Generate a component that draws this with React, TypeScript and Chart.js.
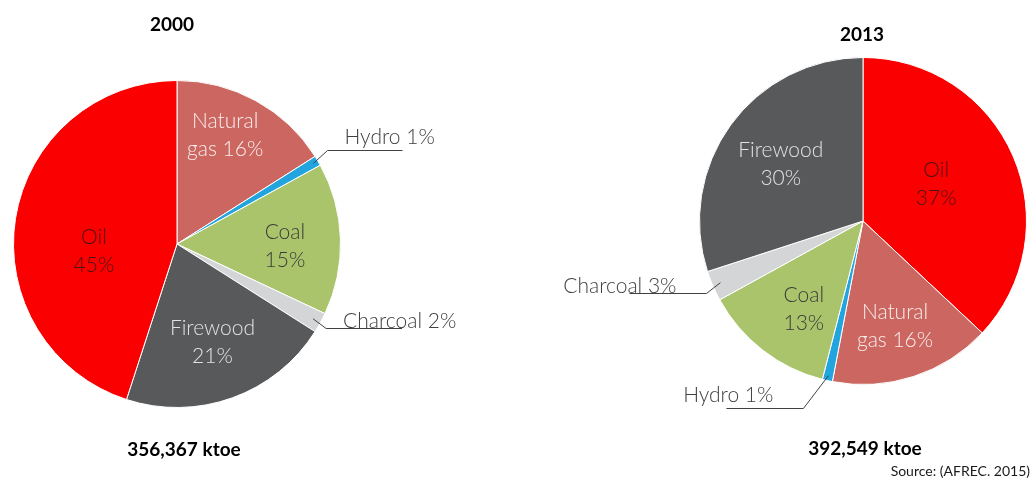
import React, { useEffect, useRef } from "react";
import { Chart, registerables } from "chart.js";

Chart.register(...registerables);

// ---- data ----
const categories2000 = ["Natural gas", "Hydro", "Coal", "Charcoal", "Firewood", "Oil"];
const shares2000 = [16, 1, 15, 2, 21, 45];
const categories2013 = ["Oil", "Natural gas", "Hydro", "Coal", "Charcoal", "Firewood"];
const shares2013 = [37, 16, 1, 13, 3, 30];
const yearLabels = ["2000", "2013"];
const totalLabels = ["356,367 ktoe", "392,549 ktoe"];
const sourceLabel = "Source: (AFREC. 2015)";

// ---- styles ----
const COLORS: Record<string, string> = {
  Oil: "#FA0000",
  "Natural gas": "#CC6660",
  Hydro: "#22A4DE",
  Coal: "#A9C46A",
  Charcoal: "#D4D5D7",
  Firewood: "#58595B",
};
const TEXT_COLORS: Record<string, string> = {
  Oil: "#4A1414",
  "Natural gas": "#F8EDEC",
  Coal: "#3A3A3A",
  Firewood: "#E2E2E2",
};
const LABEL_FONT = "300 21px Lato, 'Open Sans', sans-serif";
const TITLE_FONT = "Lato, 'Open Sans', sans-serif";

type Leader = { r: number; elbow: [number, number]; len: number; text: [number, number]; align: CanvasTextAlign };

const inside2000: Record<string, [number, number]> = {
  "Natural gas": [0.73, -5],
  Coal: [0.66, 3],
  Firewood: [0.64, 0],
  Oil: [0.51, -14],
};
const leaders2000: Record<string, Leader> = {
  Hydro: { r: 0.97, elbow: [14, -13], len: 75, text: [17, -7], align: "left" },
  Charcoal: { r: 0.95, elbow: [13, 9], len: 76, text: [17, -1], align: "left" },
};
const inside2013: Record<string, [number, number]> = {
  Oil: [0.5, -3],
  "Natural gas": [0.67, 1],
  Coal: [0.65, -4],
  Firewood: [0.61, -1.5],
};
const leaders2013: Record<string, Leader> = {
  Charcoal: { r: 0.95, elbow: [-14, 10], len: -77, text: [-30, -1], align: "right" },
  Hydro: { r: 0.97, elbow: [-25, 32], len: -77, text: [-30, -7], align: "right" },
};

const sliceLabelPlugin = {
  id: "sliceLabels",
  afterDatasetsDraw(chart: any, _args: any, opts: any) {
    const ctx: CanvasRenderingContext2D = chart.ctx;
    const meta = chart.getDatasetMeta(0);
    const labels = chart.data.labels as string[];
    const vals = chart.data.datasets[0].data as number[];
    meta.data.forEach((arc: any, i: number) => {
      const p = arc.getProps(["x", "y", "startAngle", "endAngle", "outerRadius"], true);
      const name = labels[i];
      const pct = vals[i] + "%";
      const mid = (p.startAngle + p.endAngle) / 2;
      ctx.save();
      ctx.font = LABEL_FONT;
      const ins = opts.inside[name];
      if (ins) {
        const a = mid + (ins[1] * Math.PI) / 180;
        const r = p.outerRadius * ins[0];
        const cx = p.x + Math.cos(a) * r;
        const cy = p.y + Math.sin(a) * r;
        const sp = name.indexOf(" ");
        const lines = sp > 0 ? [name.slice(0, sp), name.slice(sp + 1) + " " + pct] : [name, pct];
        ctx.fillStyle = TEXT_COLORS[name] || "#404040";
        ctx.textAlign = "center";
        ctx.textBaseline = "middle";
        lines.forEach((t, k) => ctx.fillText(t, cx, cy + (k - (lines.length - 1) / 2) * opts.lineHeight));
      }
      const lead: Leader | undefined = opts.leaders[name];
      if (lead) {
        const r = p.outerRadius * lead.r;
        const ax = p.x + Math.cos(mid) * r;
        const ay = p.y + Math.sin(mid) * r;
        const ex = ax + lead.elbow[0];
        const ey = Math.round(ay + lead.elbow[1]) + 0.5;
        ctx.strokeStyle = "#404040";
        ctx.lineWidth = 1;
        ctx.beginPath();
        ctx.moveTo(ax, ay);
        ctx.lineTo(ex, ey);
        ctx.lineTo(ex + lead.len, ey);
        ctx.stroke();
        ctx.fillStyle = "#404040";
        ctx.textAlign = lead.align;
        ctx.textBaseline = "alphabetic";
        ctx.fillText(name + " " + pct, ex + lead.text[0], ey + lead.text[1]);
      }
      ctx.restore();
    });
  },
};

type PieProps = {
  categories: string[];
  values: number[];
  inside: Record<string, [number, number]>;
  leaders: Record<string, Leader>;
  padding: { left: number; right: number; top: number; bottom: number };
  left: number;
};

function Pie({ categories, values, inside, leaders, padding, left }: PieProps) {
  const ref = useRef<HTMLCanvasElement | null>(null);
  useEffect(() => {
    if (!ref.current) return;
    const chart = new Chart(ref.current, {
      type: "pie",
      data: {
        labels: categories,
        datasets: [
          {
            data: values,
            backgroundColor: categories.map((c) => COLORS[c]),
            borderColor: "#FFFFFF",
            borderWidth: 1,
          },
        ],
      },
      options: {
        responsive: false,
        animation: false,
        devicePixelRatio: 1,
        layout: { padding },
        plugins: {
          legend: { display: false },
          tooltip: { enabled: false },
          sliceLabels: { inside, leaders, lineHeight: 28 },
        } as any,
      },
      plugins: [sliceLabelPlugin],
    });
    return () => chart.destroy();
  }, []);
  return (
    <canvas
      ref={ref}
      width={516}
      height={478}
      style={{ position: "absolute", left, top: 0, width: 516, height: 478 }}
    />
  );
}

function Text({ x, y, children, size, bold, align }: any) {
  const tx = align === "right" ? "-100%" : "-50%";
  return (
    <div
      style={{
        position: "absolute",
        left: x,
        top: y,
        transform: `translate(${tx}, -50%)`,
        fontFamily: TITLE_FONT,
        fontSize: size,
        fontWeight: bold ? 700 : 400,
        lineHeight: 1,
        whiteSpace: "nowrap",
        color: bold ? "#000" : "#1a1a1a",
      }}
    >
      {children}
    </div>
  );
}

export default function App() {
  return (
    <div
      style={{
        position: "absolute",
        left: 0,
        top: 0,
        width: 1032,
        height: 478,
        background: "#FFFFFF",
        overflow: "hidden",
      }}
    >
      <Pie
        categories={categories2000}
        values={shares2000}
        inside={inside2000}
        leaders={leaders2000}
        padding={{ left: 13, top: 80, right: 175, bottom: 70 }}
        left={0}
      />
      <Pie
        categories={categories2013}
        values={shares2013}
        inside={inside2013}
        leaders={leaders2013}
        padding={{ left: 183, top: 57, right: 5, bottom: 93 }}
        left={516}
      />
      <Text x={172} y={23} size={19} bold>
        {yearLabels[0]}
      </Text>
      <Text x={184} y={448} size={19} bold>
        {totalLabels[0]}
      </Text>
      <Text x={862} y={33} size={19} bold>
        {yearLabels[1]}
      </Text>
      <Text x={865} y={447} size={19} bold>
        {totalLabels[1]}
      </Text>
      <Text x={1030} y={471} size={14} align="right">
        {sourceLabel}
      </Text>
    </div>
  );
}
